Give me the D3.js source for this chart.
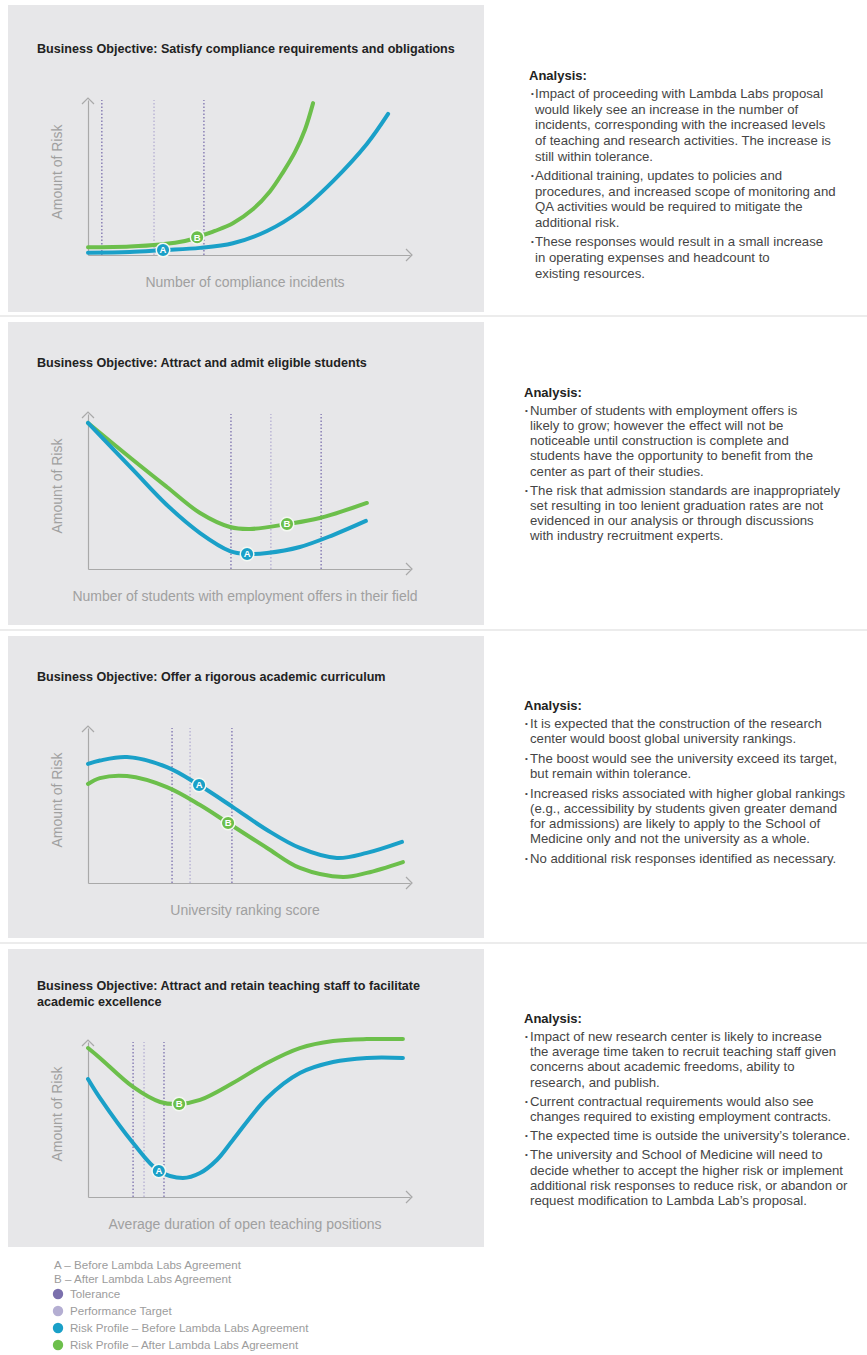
<!DOCTYPE html>
<html><head><meta charset="utf-8">
<script src="https://cdn.jsdelivr.net/npm/d3@7"></script>
<style>
body{margin:0;background:#fff;}
svg{display:block;font-family:"Liberation Sans",Arial,Helvetica,sans-serif;}
</style>
</head><body>
<svg id="c" width="867" height="1355"></svg>
<script>
// ---------------- DATA ----------------
const panelTitles = [
  ["Business Objective: Satisfy compliance requirements and obligations"],
  ["Business Objective: Attract and admit eligible students"],
  ["Business Objective: Offer a rigorous academic curriculum"],
  ["Business Objective: Attract and retain teaching staff to facilitate", "academic excellence"]
];
const xAxisLabels = [
  "Number of compliance incidents",
  "Number of students with employment offers in their field",
  "University ranking score",
  "Average duration of open teaching positions"
];
const yAxisLabel = "Amount of Risk";

// Risk profile before agreement (blue), [x, risk] in 0-100 units
const complianceBefore = [[0,1.5],[13,2],[23.3,3.2],[34.8,4.6],[45,7.6],[55.6,15.5],[65.8,28.4],[76.1,47.7],[86.6,71.6],[93.2,91]];
const studentsBefore   = [[0,94.2],[14,63.9],[24.5,41.3],[34.8,23.2],[44.1,11.6],[49.4,9.7],[55.6,10.3],[65.8,14.2],[76.1,21.9],[86.3,31]];
const curriculumBefore = [[0,76.8],[3.7,79],[12.1,81.3],[24.5,74.8],[34.5,63.2],[45,49],[55.6,34.2],[65.8,22.6],[77.3,16.1],[86.6,19.4],[97.5,26.5]];
const staffBefore      = [[0,76.1],[3.7,63.9],[14,34.8],[22,16.8],[29.5,12.3],[34.8,15.5],[40,23.9],[45,36.8],[55.6,63.9],[65.8,80],[76.1,87.1],[86.6,89.7],[97.8,89.7]];

// Risk profile after agreement (green)
const complianceAfter = [[0,5],[13,5.5],[22.4,6.8],[30.1,9],[33.9,11.5],[39.4,15.5],[45,20.5],[51.2,29.5],[56.5,41],[60.6,53.5],[64.3,66.5],[67.4,81],[69.9,98]];
const studentsAfter   = [[0,94.2],[14,70.3],[24.5,52.9],[34.8,36.1],[44.1,27.1],[50.3,25.8],[61.8,29],[72,32.9],[86.6,42.6]];
const curriculumAfter = [[0,63.9],[3.7,67.7],[12.1,69],[24.5,61.9],[34.8,50.3],[43.5,38.7],[55.6,22.6],[65.8,9.7],[79.2,3.9],[86.6,6.5],[97.8,13.5]];
const staffAfter      = [[0,96.1],[3.7,89.7],[14,71],[22.4,61.3],[28.3,60],[34.8,62.6],[45,73.5],[55.6,86.5],[65.8,96.1],[76.1,100.6],[86.6,101.9],[97.8,101.9]];

// Marker positions (x) on each curve
const markerA = [23.3, 49.4, 34.5, 22];
const markerB = [33.9, 61.8, 43.5, 28.3];

// Dotted reference lines (x)
const toleranceLines = [[4.3, 36], [44.4, 72.4], [26.1, 44.7], [14, 23.6]];
const targetLines = [20.5, 56.8, 31.7, 17.4];

// Analysis text
const analysis1 = [
  ["Impact of proceeding with Lambda Labs proposal","would likely see an increase in the number of","incidents, corresponding with the increased levels","of teaching and research activities. The increase is","still within tolerance."],
  ["Additional training, updates to policies and","procedures, and increased scope of monitoring and","QA activities would be required to mitigate the","additional risk."],
  ["These responses would result in a small increase","in operating expenses and headcount to","existing resources."]
];
const analysis2 = [
  ["Number of students with employment offers is","likely to grow; however the effect will not be","noticeable until construction is complete and","students have the opportunity to benefit from the","center as part of their studies."],
  ["The risk that admission standards are inappropriately","set resulting in too lenient graduation rates are not","evidenced in our analysis or through discussions","with industry recruitment experts."]
];
const analysis3 = [
  ["It is expected that the construction of the research","center would boost global university rankings."],
  ["The boost would see the university exceed its target,","but remain within tolerance."],
  ["Increased risks associated with higher global rankings","(e.g., accessibility by students given greater demand","for admissions) are likely to apply to the School of","Medicine only and not the university as a whole."],
  ["No additional risk responses identified as necessary."]
];
const analysis4 = [
  ["Impact of new research center is likely to increase","the average time taken to recruit teaching staff given","concerns about academic freedoms, ability to","research, and publish."],
  ["Current contractual requirements would also see","changes required to existing employment contracts."],
  ["The expected time is outside the university\u2019s tolerance."],
  ["The university and School of Medicine will need to","decide whether to accept the higher risk or implement","additional risk responses to reduce risk, or abandon or","request modification to Lambda Lab\u2019s proposal."]
];

const legendNotes = ["A \u2013 Before Lambda Labs Agreement", "B \u2013 After Lambda Labs Agreement"];
const legendKeys = ["Tolerance", "Performance Target", "Risk Profile \u2013 Before Lambda Labs Agreement", "Risk Profile \u2013 After Lambda Labs Agreement"];

// ---------------- STYLE / LAYOUT ----------------
const COL = {
  gray: "#e7e7e9", blue: "#1aa0c8", green: "#6cbf4b",
  tol: "#7b70ad", target: "#b4aed2", axis: "#a9a9a9", label: "#a0a0a0",
  title: "#222", body: "#454545", legend: "#9c9c9c"
};
const legendColors = [COL.tol, COL.target, COL.blue, COL.green];
const panelTop = [5, 319, 633, 947];
const grayBox = [[5, 307], [322, 303], [636, 302], [949, 298]];
const befores = [complianceBefore, studentsBefore, curriculumBefore, staffBefore];
const afters = [complianceAfter, studentsAfter, curriculumAfter, staffAfter];
const analyses = [analysis1, analysis2, analysis3, analysis4];
const textLayout = [
  {hx: 529, bx: 531, tx: 535, hy: 70, lh: 15.8, gap: 3},
  {hx: 524, bx: 525, tx: 530, hy: 73, lh: 15.2, gap: 4},
  {hx: 524, bx: 525, tx: 530, hy: 72, lh: 15.2, gap: 4.5},
  {hx: 524, bx: 525, tx: 530, hy: 71, lh: 15.3, gap: 3.8}
];

const svg = d3.select("#c");
svg.append("rect").attr("width", 867).attr("height", 1355).attr("fill", "#fff");

// separators
[316, 630, 943].forEach(yy => {
  svg.append("line").attr("x1", 0).attr("x2", 867).attr("y1", yy).attr("y2", yy)
    .attr("stroke", "#e6e6e6").attr("stroke-width", 1.5);
});

panelTop.forEach((top, i) => {
  const g = svg.append("g");
  g.append("rect").attr("x", 8).attr("y", grayBox[i][0]).attr("width", 476).attr("height", grayBox[i][1])
    .attr("fill", COL.gray);

  // title
  panelTitles[i].forEach((t, k) => {
    g.append("text").attr("x", 37).attr("y", top + (panelTitles[i].length > 1 ? 38 : 43) + k * 16)
      .attr("dy", "0.36em").attr("font-size", 12.6).attr("font-weight", "bold")
      .attr("fill", COL.title).text(t);
  });

  const x = d3.scaleLinear().domain([0, 100]).range([88, 410]);
  const y = d3.scaleLinear().domain([0, 100]).range([top + 250, top + 95]);

  // axes (no ticks), using d3 axes
  const xa = g.append("g").attr("transform", `translate(0,${y(0)})`)
    .call(d3.axisBottom(x).tickValues([]).tickSizeOuter(0));
  const ya = g.append("g").attr("transform", `translate(${x(0)},0)`)
    .call(d3.axisLeft(y).tickValues([]).tickSizeOuter(0));
  [xa, ya].forEach(a => a.select(".domain").attr("stroke", COL.axis).attr("stroke-width", 1.2));
  // arrow heads
  const xe = x(100) + 2, ye = y(0);
  g.append("path").attr("d", `M${xe - 6},${ye - 6}L${xe},${ye}L${xe - 6},${ye + 6}`)
    .attr("fill", "none").attr("stroke", COL.axis).attr("stroke-width", 1.2);
  const yx = x(0), yt = y(100) - 2;
  g.append("path").attr("d", `M${yx - 6},${yt + 6}L${yx},${yt}L${yx + 6},${yt + 6}`)
    .attr("fill", "none").attr("stroke", COL.axis).attr("stroke-width", 1.2);

  // dotted lines
  const refs = [
    {v: toleranceLines[i][0], c: COL.tol},
    {v: targetLines[i], c: COL.target},
    {v: toleranceLines[i][1], c: COL.tol}
  ];
  g.selectAll(".ref").data(refs).enter().append("line")
    .attr("x1", d => x(d.v)).attr("x2", d => x(d.v))
    .attr("y1", y(0)).attr("y2", y(100))
    .attr("stroke", d => d.c).attr("stroke-width", 1.3).attr("stroke-dasharray", "1.5,2");

  // labels
  g.append("text").attr("transform", `translate(57,${top + 167}) rotate(-90)`)
    .attr("text-anchor", "middle").attr("dy", "0.36em").attr("font-size", 14)
    .attr("fill", COL.label).text(yAxisLabel);
  g.append("text").attr("x", 245).attr("y", top + 277).attr("text-anchor", "middle")
    .attr("dy", "0.36em").attr("font-size", 14).attr("fill", COL.label).text(xAxisLabels[i]);

  // curves
  const line = d3.line().x(d => x(d[0])).y(d => y(d[1])).curve(d3.curveCatmullRom.alpha(0.5));
  const series = [{d: afters[i], c: COL.green, m: markerB[i], l: "B"}, {d: befores[i], c: COL.blue, m: markerA[i], l: "A"}];
  const paths = series.map(s => g.append("path").attr("d", line(s.d)).attr("fill", "none")
    .attr("stroke", s.c).attr("stroke-width", 4).attr("stroke-linecap", "round"));

  // markers on curves
  series.forEach((s, k) => {
    const node = paths[k].node();
    const L = node.getTotalLength();
    const tx = x(s.m);
    let lo = 0, hi = L;
    for (let it = 0; it < 40; it++) {
      const mid = (lo + hi) / 2;
      if (node.getPointAtLength(mid).x < tx) lo = mid; else hi = mid;
    }
    const p = node.getPointAtLength((lo + hi) / 2);
    g.append("circle").attr("cx", p.x).attr("cy", p.y).attr("r", 6.8)
      .attr("fill", s.c).attr("stroke", "#f4f8f2").attr("stroke-width", 1.5);
    g.append("text").attr("x", p.x).attr("y", p.y).attr("dy", "0.36em").attr("text-anchor", "middle")
      .attr("font-size", 9.5).attr("font-weight", "bold").attr("fill", "#fff").text(s.l);
  });

  // analysis text
  const L = textLayout[i];
  let cy = top + L.hy;
  g.append("text").attr("x", L.hx).attr("y", cy).attr("dy", "0.36em").attr("font-size", 13)
    .attr("font-weight", "bold").attr("fill", COL.title).text("Analysis:");
  cy += 18;
  analyses[i].forEach((bullet, b) => {
    if (b > 0) cy += L.gap;
    bullet.forEach((ln, j) => {
      if (j === 0) {
        g.append("text").attr("x", L.bx).attr("y", cy).attr("dy", "0.36em").attr("font-size", 8)
          .attr("fill", COL.body).text("\u2022");
      }
      g.append("text").attr("x", L.tx).attr("y", cy).attr("dy", "0.36em").attr("font-size", 13.2)
        .attr("fill", COL.body).text(ln);
      cy += L.lh;
    });
  });
});

// legend
const legendRowsY = [1265, 1279, 1294, 1311, 1328, 1345];
legendNotes.forEach((t, k) => {
  svg.append("text").attr("x", 54).attr("y", legendRowsY[k]).attr("dy", "0.36em")
    .attr("font-size", 11.6).attr("fill", COL.legend).text(t);
});
legendKeys.forEach((t, k) => {
  const yy = legendRowsY[k + 2];
  svg.append("circle").attr("cx", 58).attr("cy", yy).attr("r", 5.2).attr("fill", legendColors[k]);
  svg.append("text").attr("x", 70).attr("y", yy).attr("dy", "0.36em")
    .attr("font-size", 11.6).attr("fill", COL.legend).text(t);
});
</script>
</body></html>
